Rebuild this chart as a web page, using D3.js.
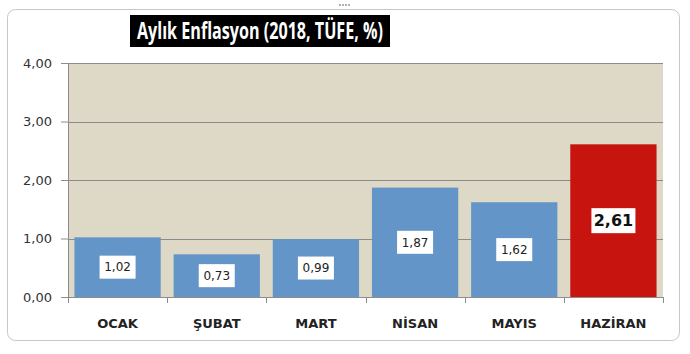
<!DOCTYPE html>
<html>
<head>
<meta charset="utf-8">
<script src="https://cdn.jsdelivr.net/npm/d3@7"></script>
<style>
  body { margin: 0; background: #fff; }
  svg { display: block; font-family: "DejaVu Sans", sans-serif; }
</style>
</head>
<body>
<svg id="chart" width="690" height="354"></svg>
<script>
// data
const months = ["OCAK", "ŞUBAT", "MART", "NİSAN", "MAYIS", "HAZİRAN"];
const values = [1.02, 0.73, 0.99, 1.87, 1.62, 2.61];
const highlight = ["HAZİRAN"];
const yTicks = [0, 1, 2, 3, 4];
const title = "Aylık Enflasyon (2018, TÜFE, %)";

const dims = {
    width: 690,
    height: 354,
    margin: { top: 63, right: 27, bottom: 57, left: 68 }
};
const innerW = dims.width - dims.margin.left - dims.margin.right;
const innerH = dims.height - dims.margin.top - dims.margin.bottom;

const data = months.map((m, i) => ({ month: m, value: values[i] }));
const fmt = v => d3.format(".2f")(v).replace(".", ",");

var svg = d3.select("#chart");

// chart area frame
svg.append("rect")
    .attr("x", 7.5).attr("y", 9.5)
    .attr("width", 672).attr("height", 331)
    .attr("rx", 8)
    .attr("fill", "#fff")
    .attr("stroke", "#c3c8cf");

// little grip at the top
svg.append("g")
    .selectAll("rect")
    .data(d3.range(4))
    .enter()
    .append("rect")
    .attr("x", i => 339 + i * 3).attr("y", 4)
    .attr("width", 2).attr("height", 2)
    .attr("fill", "#b0b0b0");

var g = svg.append("g")
    .attr("transform", `translate(${dims.margin.left}, ${dims.margin.top})`);

var xScale = d3.scaleBand()
    .domain(months)
    .range([0, innerW])
    .paddingInner(0.13)
    .paddingOuter(0.065);

var yScale = d3.scaleLinear()
    .domain([0, 4])
    .range([innerH, 0]);

// plot background
g.append("rect")
    .attr("width", innerW)
    .attr("height", innerH)
    .attr("fill", "#ddd9c6");

// gridlines
g.append("g")
    .selectAll("line")
    .data(yTicks.slice(1))
    .enter()
    .append("line")
    .attr("x1", 0).attr("x2", innerW)
    .attr("y1", d => Math.round(yScale(d)) + 0.5)
    .attr("y2", d => Math.round(yScale(d)) + 0.5)
    .attr("stroke", "#8c8c8c");

// bars
g.selectAll(".bar")
    .data(data)
    .enter()
    .append("rect")
    .attr("class", "bar")
    .attr("x", d => xScale(d.month))
    .attr("y", d => yScale(d.value))
    .attr("width", xScale.bandwidth())
    .attr("height", d => innerH - yScale(d.value))
    .attr("fill", d => highlight.includes(d.month) ? "#c8140f" : "#6495c8");

// y axis
var yAxis = g.append("g")
    .call(d3.axisLeft(yScale).tickValues(yTicks).tickFormat(fmt).tickSize(7).tickPadding(9));
yAxis.select(".domain").attr("stroke", "#8c8c8c");
yAxis.selectAll(".tick line").attr("stroke", "#8c8c8c");
yAxis.selectAll("text")
    .attr("fill", "#333")
    .style("font-size", "13px")
    .style("font-family", "'DejaVu Sans', sans-serif");

// x axis with ticks between categories
var xAxis = g.append("g")
    .attr("transform", `translate(0, ${innerH})`);
xAxis.append("line")
    .attr("x1", 0).attr("x2", innerW)
    .attr("y1", 0.5).attr("y2", 0.5)
    .attr("stroke", "#8c8c8c");
const step = xScale.step();
const outer = xScale(months[0]) - xScale.paddingInner() * step / 2;
xAxis.selectAll(".sep")
    .data(d3.range(months.length + 1))
    .enter()
    .append("line")
    .attr("x1", i => Math.round(outer + i * step) + 0.5)
    .attr("x2", i => Math.round(outer + i * step) + 0.5)
    .attr("y1", 0).attr("y2", 6)
    .attr("stroke", "#8c8c8c");
xAxis.selectAll(".cat")
    .data(months)
    .enter()
    .append("text")
    .attr("x", d => xScale(d) + xScale.bandwidth() / 2)
    .attr("y", 31)
    .attr("text-anchor", "middle")
    .attr("fill", "#222")
    .style("font-size", "13px")
    .style("font-weight", "bold")
    .text(d => d);

// value labels in white boxes
const labels = g.selectAll(".val")
    .data(data)
    .enter()
    .append("g")
    .attr("class", "val")
    .attr("transform", d => `translate(${xScale(d.month) + xScale.bandwidth() / 2}, ${(yScale(d.value) + innerH) / 2})`);

labels.each(function(d) {
    const big = highlight.includes(d.month);
    const sel = d3.select(this);
    const w = big ? 44 : 36, h = big ? 25 : 23;
    sel.append("rect")
        .attr("x", -w / 2).attr("y", -h / 2)
        .attr("width", w).attr("height", h)
        .attr("fill", "#fff");
    sel.append("text")
        .attr("text-anchor", "middle")
        .attr("dy", "0.36em")
        .attr("fill", big ? "#111" : "#222")
        .style("font-size", big ? "16px" : "12px")
        .style("font-weight", big ? "bold" : "normal")
        .text(fmt(d.value));
});

// title
const tg = svg.append("g").attr("transform", "translate(260, 31)");
tg.append("rect")
    .attr("x", -130).attr("y", -16)
    .attr("width", 260).attr("height", 32)
    .attr("fill", "#000");
tg.append("text")
    .attr("text-anchor", "middle")
    .attr("dy", "0.35em")
    .attr("fill", "#fff")
    .style("font-family", "'Liberation Sans Narrow', 'Open Sans', sans-serif")
    .style("font-size", "24px")
    .style("font-weight", "bold")
    .attr("textLength", 246)
    .attr("lengthAdjust", "spacingAndGlyphs")
    .text(title);
</script>
</body>
</html>
